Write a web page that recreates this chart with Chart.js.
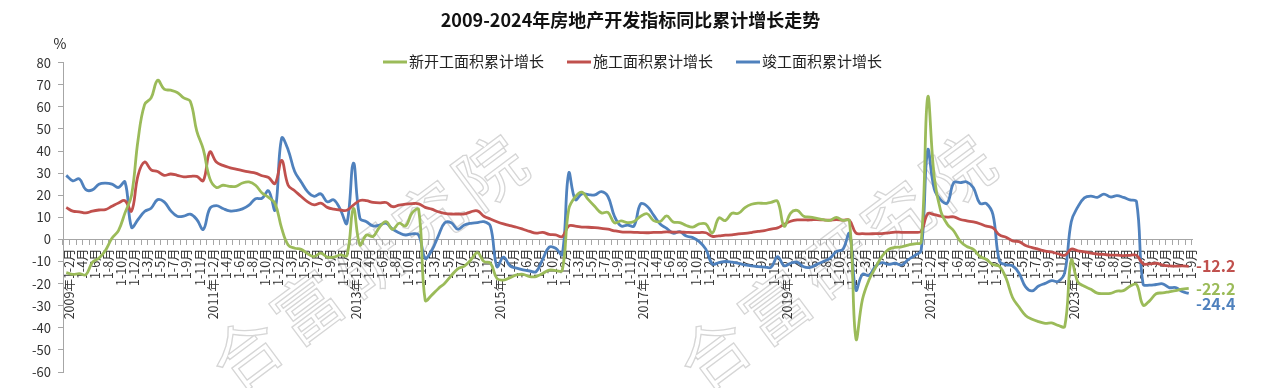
<!DOCTYPE html>
<html>
<head>
<meta charset="utf-8">
<title>2009-2024年房地产开发指标同比累计增长走势</title>
<script src="https://cdn.jsdelivr.net/npm/chart.js@4.4.1/dist/chart.umd.min.js"></script>
<style>
  html, body { margin: 0; padding: 0; background: #fff; }
</style>
</head>
<body>
<canvas id="myChart" width="1261" height="388"></canvas>
<script>
const chartTitle = "2009-2024年房地产开发指标同比累计增长走势";
const unitLabel = "%";

const years = [2009, 2010, 2011, 2012, 2013, 2014, 2015, 2016, 2017, 2018, 2019, 2020, 2021, 2022, 2023, 2024];
const monthRanges = ["1-2月", "1-3月", "1-4月", "1-5月", "1-6月", "1-7月", "1-8月", "1-9月", "1-10月", "1-11月", "1-12月"];
const monthRanges2024 = ["1-2月", "1-3月", "1-4月", "1-5月", "1-6月", "1-7月", "1-8月", "1-9月"];

const seriesNames = ["新开工面积累计增长", "施工面积累计增长", "竣工面积累计增长"];
const seriesColors = ["#9BBB59", "#C0504D", "#4F81BD"];

// 新开工面积累计增长 (%), one row per year
const newStarts = [
  -15.0, -15.8, -15.5, -16.0, -10.4, -8.5, -5.0, 0.5, 4.0, 12.0, 20.0,
  45.0, 61.0, 64.0, 72.0, 68.0, 67.5, 66.5, 64.0, 62.5, 49.0, 40.7,
  27.5, 23.5, 24.5, 24.0, 24.0, 25.5, 26.0, 24.5, 21.0, 19.0, 16.2,
  5.1, -2.5, -4.0, -4.5, -6.5, -7.8, -6.2, -8.0, -8.0, -7.0, -7.3,
  14.0, -2.5, 2.0, 1.3, 5.5, 8.0, 4.5, 7.3, 6.1, 12.0, 13.5,
  -27.6, -25.2, -22.3, -19.8, -16.4, -13.3, -12.1, -9.3, -6.0, -10.0, -10.7,
  -17.7, -18.4, -17.3, -16.1, -15.8, -16.8, -16.8, -15.4, -13.9, -14.1, -14.0,
  13.7, 19.2, 21.4, 18.0, 14.9, 12.0, 12.2, 7.5, 8.4, 7.6, 8.1,
  10.4, 11.6, 8.5, 8.1, 10.6, 7.9, 7.6, 6.3, 5.6, 7.0, 7.0,
  2.9, 9.7, 8.5, 11.8, 11.8, 14.4, 15.9, 16.4, 16.3, 16.8, 17.2,
  6.0, 11.9, 13.1, 10.5, 10.1, 9.5, 8.9, 8.6, 10.0, 8.6, 8.5,
  -44.9, -27.2, -18.4, -12.8, -7.6, -4.5, -3.6, -3.4, -2.6, -2.0, -1.2,
  64.3, 28.2, 12.8, 6.9, 3.8, -0.9, -3.2, -4.5, -7.7, -9.1, -11.4,
  -12.2, -17.5, -26.3, -30.6, -34.4, -36.1, -37.2, -38.0, -37.8, -38.9, -39.4,
  -9.4, -19.2, -21.2, -22.6, -24.3, -24.5, -24.4, -23.4, -23.2, -21.2, -20.4,
  -29.7, -27.8, -24.6, -24.2, -23.7, -23.2, -22.5, -22.2
];

// 施工面积累计增长 (%)
const underConstruction = [
  14.4, 12.8, 12.5, 12.0, 12.8, 13.3, 13.5, 15.0, 16.5, 17.5, 12.8,
  29.0, 35.0, 31.5, 30.7, 29.0, 29.6, 29.0, 28.3, 28.5, 28.5, 26.6,
  39.6, 35.0, 33.5, 32.5, 31.8, 31.1, 30.5, 30.0, 28.8, 28.0, 25.3,
  35.7, 24.5, 22.0, 19.4, 17.0, 15.6, 16.4, 14.5, 13.7, 13.3, 13.2,
  15.5, 17.6, 17.5, 16.7, 16.5, 16.7, 14.8, 15.5, 16.0, 16.2, 16.1,
  14.5, 13.7, 12.5, 11.8, 11.5, 11.5, 11.5, 12.5, 12.9, 10.5, 9.2,
  8.0, 7.0, 6.2, 5.5, 4.6, 3.6, 2.8, 3.2, 2.3, 2.0, 1.3,
  6.1, 6.0, 5.6, 5.5, 5.3, 5.0, 4.6, 3.9, 3.4, 3.3, 3.2,
  3.1, 3.0, 3.2, 3.2, 3.4, 3.3, 3.3, 3.2, 3.1, 3.1, 3.0,
  1.4, 1.6, 1.9, 2.0, 2.5, 2.7, 3.1, 3.6, 4.0, 4.7, 5.2,
  6.8, 8.2, 8.8, 8.8, 8.8, 9.0, 8.8, 8.7, 9.0, 8.7, 8.7,
  2.9, 2.6, 2.5, 2.6, 2.6, 3.0, 3.3, 3.2, 3.2, 3.2, 3.7,
  11.6, 11.2, 10.5, 10.1, 10.2, 9.0, 8.4, 7.9, 7.1, 6.0, 5.2,
  2.0, 1.0, -0.7, -1.0, -2.8, -3.7, -4.5, -5.3, -5.7, -6.5, -7.2,
  -4.4, -5.2, -5.6, -6.2, -6.6, -6.8, -7.1, -7.1, -7.3, -7.2, -7.2,
  -11.0, -11.1, -10.8, -11.6, -12.0, -12.1, -12.0, -12.2
];

// 竣工面积累计增长 (%)
const completed = [
  29.0, 26.5, 27.4, 22.5, 22.4, 25.0, 25.5, 25.0, 23.5, 26.0, 5.5,
  9.0, 12.6, 14.1, 18.0, 17.0, 13.0, 10.5, 10.5, 11.4, 9.0, 4.5,
  14.0, 15.3, 14.0, 12.9, 13.0, 13.8, 15.5, 18.4, 18.6, 22.0, 13.3,
  45.8, 40.5, 30.7, 26.0, 21.5, 19.5, 20.6, 17.0, 17.9, 13.5, 7.3,
  34.5, 9.6, 8.0, 6.1, 6.5, 7.3, 4.6, 3.0, 2.0, 2.5, 2.0,
  -8.5, -5.0, 1.5, 7.5, 7.5, 4.6, 6.5, 7.3, 7.6, 8.0, 5.9,
  -12.3, -8.0, -12.0, -13.0, -13.8, -14.3, -14.6, -9.0, -3.5, -4.0, -6.9,
  30.0, 18.0, 20.6, 20.3, 20.1, 21.6, 19.4, 10.5, 6.1, 6.5, 6.1,
  16.0, 15.0, 11.0, 7.0, 5.0, 2.8, 3.5, 1.5, 0.8, -1.0, -4.4,
  -11.1, -10.5, -10.0, -10.3, -10.8, -11.5, -12.0, -12.3, -12.5, -12.6, -7.8,
  -11.9, -10.8, -10.3, -12.4, -12.7, -11.3, -10.0, -8.6, -5.5, -4.5, 2.6,
  -22.9, -15.8, -16.3, -12.1, -10.5, -11.3, -10.8, -11.6, -9.2, -7.3, -4.9,
  40.4, 22.9, 17.9, 16.4, 25.7, 25.7, 26.0, 23.4, 16.3, 16.2, 11.2,
  -9.8, -11.5, -11.9, -15.3, -21.5, -23.3, -21.1, -19.9, -18.7, -19.0, -15.0,
  8.0, 14.7, 18.8, 19.6, 19.0, 20.5, 19.2, 19.8, 19.0, 17.9, 17.0,
  -20.2, -20.7, -20.4, -20.1, -21.8, -21.8, -23.6, -24.4
];

const fontFamily = '"Noto Sans CJK SC", "Noto Sans", sans-serif';

// 横轴标签：每年第一个月份带年份
const labels = [];
years.forEach((year) => {
  const ranges = year === 2024 ? monthRanges2024 : monthRanges;
  ranges.forEach((m, k) => {
    labels.push(k === 0 ? `${year}年${m}` : m);
  });
});

const datasets = [newStarts, underConstruction, completed].map((data, i) => ({
  label: seriesNames[i],
  data,
  borderColor: seriesColors[i],
  backgroundColor: seriesColors[i],
  borderWidth: 2.8,
  pointRadius: 0,
  tension: 0.4,
  fill: false,
  yAxisID: "y",
}));

// 水印、图例、单位和末值标注
const overlay = {
  id: "overlay",
  beforeDraw(chart) {
    const ctx = chart.ctx;
    const text = "合富研究院";
    ctx.save();
    ctx.font = `68px ${fontFamily}`;
    ctx.strokeStyle = "#d6d6d6";
    ctx.lineWidth = 1.3;
    ctx.textAlign = "center";
    ctx.textBaseline = "middle";
    [[368, 262], [836, 262]].forEach(([cx, cy]) => {
      ctx.save();
      ctx.translate(cx, cy);
      ctx.rotate(-0.64);
      for (let k = 0; k < text.length; k++) {
        ctx.strokeText(text[k], (k - 2) * 76, 0);
      }
      ctx.restore();
    });
    ctx.restore();
  },
  afterDraw(chart) {
    const ctx = chart.ctx;
    const yScale = chart.scales.y;
    ctx.save();

    // 单位
    ctx.fillStyle = "#222";
    ctx.font = `14px ${fontFamily}`;
    ctx.textAlign = "center";
    ctx.textBaseline = "middle";
    ctx.fillText(unitLabel, 60, 44);

    // 图例
    ctx.font = `15px ${fontFamily}`;
    ctx.textAlign = "left";
    let x = 383;
    const ly = 62;
    seriesNames.forEach((name, i) => {
      ctx.strokeStyle = seriesColors[i];
      ctx.lineWidth = 3;
      ctx.beginPath();
      ctx.moveTo(x, ly);
      ctx.lineTo(x + 24, ly);
      ctx.stroke();
      ctx.fillStyle = "#222";
      ctx.fillText(name, x + 26, ly - 1);
      x += 26 + ctx.measureText(name).width + 23;
    });

    // 末值标注
    const shift = [0, 0, 11];
    ctx.font = `bold 16px ${fontFamily}`;
    chart.data.datasets.forEach((ds, i) => {
      const v = ds.data[ds.data.length - 1];
      const py = yScale.getPixelForValue(v) + shift[i];
      ctx.fillStyle = seriesColors[i];
      ctx.fillText(v.toFixed(1), 1196, py);
    });
    ctx.restore();
  },
};

const canvas = document.getElementById("myChart");
const myChart = new Chart(canvas, {
  type: "line",
  data: { labels, datasets },
  plugins: [overlay],
  options: {
    responsive: false,
    animation: false,
    layout: { padding: { left: 0, right: 0, top: 0, bottom: 16 } },
    plugins: {
      legend: { display: false },
      tooltip: { enabled: false },
      title: {
        display: true,
        text: chartTitle,
        color: "#111",
        font: { family: fontFamily, size: 18, weight: "bold" },
        padding: { top: 9, bottom: 32 },
      },
    },
    scales: {
      x: {
        type: "category",
        position: { y: 0 },
        offset: true,
        grid: { display: true, drawOnChartArea: false, drawTicks: true, tickLength: 5, color: "#a6a6a6", offset: true },
        border: { display: true, color: "#a6a6a6", width: 1 },
        ticks: {
          autoSkip: false,
          minRotation: 90,
          maxRotation: 90,
          padding: 4,
          labelOffset: 3,
          color: "#333",
          font: { family: fontFamily, size: 12.5 },
          callback: function (val, idx) {
            return idx % 2 === 0 ? this.getLabelForValue(val) : "";
          },
        },
      },
      y: {
        position: "left",
        min: -60,
        max: 80,
        ticks: { stepSize: 10, color: "#333", padding: 7, font: { family: fontFamily, size: 13 } },
        grid: { drawOnChartArea: false, tickLength: 5, color: "#a6a6a6" },
        border: { color: "#a6a6a6" },
        afterFit: (scale) => { scale.width = 63; },
      },
      // 右侧留白，用于末值标注
      yRight: {
        position: "right",
        min: -60,
        max: 80,
        grid: { display: false },
        border: { display: false },
        ticks: { display: false },
        afterFit: (scale) => { scale.width = 69; },
      },
    },
  },
});
</script>
</body>
</html>
